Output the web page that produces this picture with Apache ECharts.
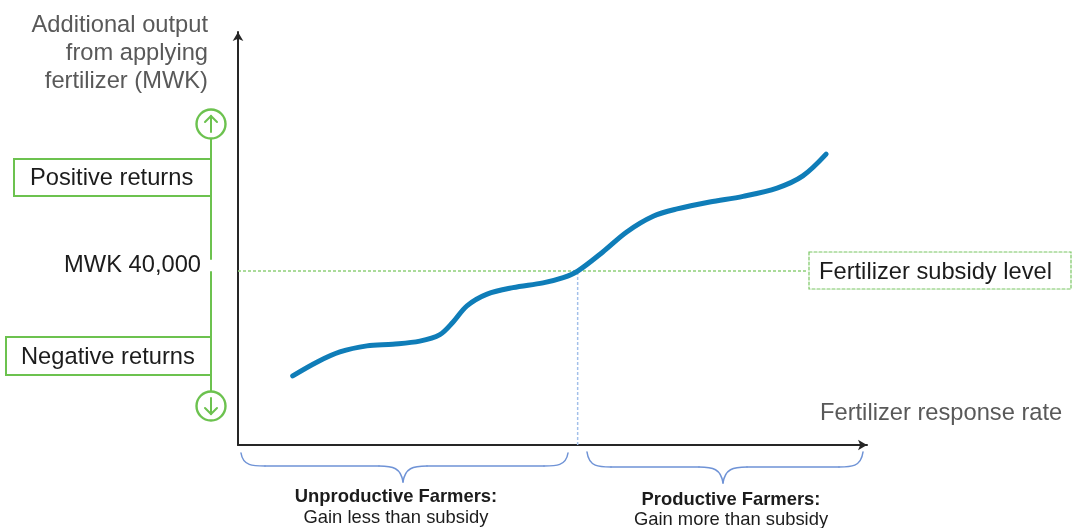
<!DOCTYPE html>
<html>
<head>
<meta charset="utf-8">
<style>html,body{margin:0;padding:0;background:#fff}#chart{width:1072px;height:528px}</style>
<script src="https://cdn.jsdelivr.net/npm/echarts@6/dist/echarts.min.js"></script>
</head>
<body>
<div id="chart"></div>
<script>
// Response curve: fertilizer response rate (index) against additional output (MWK)
const responseRate = [8.7, 12.6, 16.2, 20.5, 24.6, 28.9, 32.1, 34.2, 36.4, 39.6, 43.7, 48.5, 51.7, 54, 58, 61.8, 66, 69.8, 75, 80.3, 85.7, 89.8, 93.5];
const additionalOutput = [15900, 19100, 21400, 22800, 23200, 23900, 25400, 28300, 32000, 34700, 36200, 37300, 38500, 40000, 44400, 49000, 52600, 54300, 55900, 57200, 59100, 61900, 66900];

const subsidyLevel = 40000;
const breakEvenRate = 54;
const subsidyLineEnd = 90.6;
const rateMax = 100;
const outputMax = 95000;

const yTitleLines = ['Additional output', 'from applying', 'fertilizer (MWK)'];
const xTitle = 'Fertilizer response rate';
const subsidyLabel = 'Fertilizer subsidy level';
const subsidyTick = 'MWK 40,000';
const positiveLabel = 'Positive returns';
const negativeLabel = 'Negative returns';
const unproductive = ['Unproductive Farmers:', 'Gain less than subsidy'];
const productive = ['Productive Farmers:', 'Gain more than subsidy'];

const GREEN = '#6cc24f';
const PALE_GREEN = '#8fd07a';
const BLUE = '#0f7db8';
const BRACE = '#6f93d6';
const FONT = '"Liberation Sans", Arial, sans-serif';

function label(text, x, y, opts) {
  return {
    type: 'text', silent: true, z: 10,
    style: Object.assign({
      text, x, y, font: '23.7px ' + FONT, fill: '#1c1c1c',
      textAlign: 'left', textVerticalAlign: 'middle'
    }, opts || {})
  };
}
function stroke(type, shape, color, width, dash) {
  return {
    type, shape, silent: true, z: 9,
    style: { stroke: color, lineWidth: width, fill: 'none', lineDash: dash || null, lineCap: 'round' }
  };
}
// Curly brace drawn from four cubic segments between x0 and x1
function brace(x0, x1, tipX, top, mid, tip) {
  const seg = (x1_, y1_, c1x, c1y, c2x, c2y, x2_, y2_) => stroke('bezierCurve',
    { x1: x1_, y1: y1_, cpx1: c1x, cpy1: c1y, cpx2: c2x, cpy2: c2y, x2: x2_, y2: y2_ }, BRACE, 1.5);
  return [
    seg(x0, top, x0 + 2, mid, x0 + 12, mid, x0 + 24, mid),
    stroke('line', { x1: x0 + 24, y1: mid, x2: tipX - 24, y2: mid }, BRACE, 1.5),
    seg(tipX - 24, mid, tipX - 10, mid, tipX - 2, mid + 2, tipX, tip),
    seg(tipX, tip, tipX + 2, mid + 2, tipX + 10, mid, tipX + 24, mid),
    stroke('line', { x1: tipX + 24, y1: mid, x2: x1 - 24, y2: mid }, BRACE, 1.5),
    seg(x1 - 24, mid, x1 - 12, mid, x1 - 2, mid, x1, top)
  ];
}
function arrowCircle(cx, cy, up) {
  const dir = up ? -1 : 1;
  return [
    stroke('circle', { cx, cy, r: 14.5 }, GREEN, 2.4),
    stroke('line', { x1: cx, y1: cy - dir * 8, x2: cx, y2: cy + dir * 8 }, GREEN, 2),
    stroke('polyline', { points: [[cx - 6, cy + dir * 2], [cx, cy + dir * 8], [cx + 6, cy + dir * 2]] }, GREEN, 2)
  ];
}

const graphics = [
  // Returns scale to the left of the vertical axis
  stroke('line', { x1: 211, y1: 139, x2: 211, y2: 259 }, GREEN, 2),
  stroke('line', { x1: 211, y1: 272, x2: 211, y2: 391 }, GREEN, 2),
  stroke('polyline', { points: [[211, 159], [14, 159], [14, 196], [211, 196]] }, GREEN, 2),
  stroke('polyline', { points: [[211, 337], [6, 337], [6, 375], [211, 375]] }, GREEN, 2),
  ...arrowCircle(211, 124, true),
  ...arrowCircle(211, 406, false),
  // Dashed box holding the subsidy label
  stroke('rect', { x: 809, y: 252, width: 262, height: 37 }, '#79c662', 1.2, [3, 2]),
  ...yTitleLines.map((t, i) => label(t, 208, 25 + i * 28, { textAlign: 'right', fill: '#595959' })),
  label(xTitle, 820, 413, { fill: '#595959' }),
  label(positiveLabel, 30, 178.5),
  label(negativeLabel, 21, 357),
  label(subsidyTick, 201, 265, { textAlign: 'right' }),
  label(subsidyLabel, 819, 272),
  ...brace(241, 568, 403, 453, 466, 482),
  ...brace(587, 863, 723, 452, 467, 483),
  label(unproductive[0], 396, 497, { font: 'bold 18.4px ' + FONT, textAlign: 'center' }),
  label(unproductive[1], 396, 518, { font: '18.4px ' + FONT, textAlign: 'center' }),
  label(productive[0], 731, 500, { font: 'bold 18.4px ' + FONT, textAlign: 'center' }),
  label(productive[1], 731, 520, { font: '18.4px ' + FONT, textAlign: 'center' })
];

const axisStyle = {
  show: true, onZero: false,
  symbol: ['none', 'arrow'], symbolSize: [8, 9],
  lineStyle: { color: '#262626', width: 2 }
};

const chart = echarts.init(document.getElementById('chart'), null, { renderer: 'canvas' });
chart.setOption({
  animation: false,
  backgroundColor: '#ffffff',
  grid: { left: 238, right: 205, top: 32, bottom: 83 },
  xAxis: {
    type: 'value', min: 0, max: rateMax,
    axisLine: axisStyle, axisTick: { show: false }, axisLabel: { show: false }, splitLine: { show: false }
  },
  yAxis: {
    type: 'value', min: 0, max: outputMax,
    axisLine: axisStyle, axisTick: { show: false }, axisLabel: { show: false }, splitLine: { show: false }
  },
  graphic: graphics,
  series: [
    {
      name: 'Subsidy level', type: 'line', silent: true, showSymbol: false, z: 1,
      data: [[0, subsidyLevel], [subsidyLineEnd, subsidyLevel]],
      lineStyle: { color: PALE_GREEN, width: 1.5, type: [3, 2] }
    },
    {
      name: 'Break-even rate', type: 'line', silent: true, showSymbol: false, z: 1,
      data: [[breakEvenRate, 0], [breakEvenRate, subsidyLevel]],
      lineStyle: { color: '#a3c0ea', width: 1.5, type: [3, 2] }
    },
    {
      name: 'Additional output', type: 'line', showSymbol: false, smooth: 0.33, z: 3,
      data: responseRate.map((r, i) => [r, additionalOutput[i]]),
      lineStyle: { color: BLUE, width: 5, cap: 'round' }
    }
  ]
});
</script>
</body>
</html>
